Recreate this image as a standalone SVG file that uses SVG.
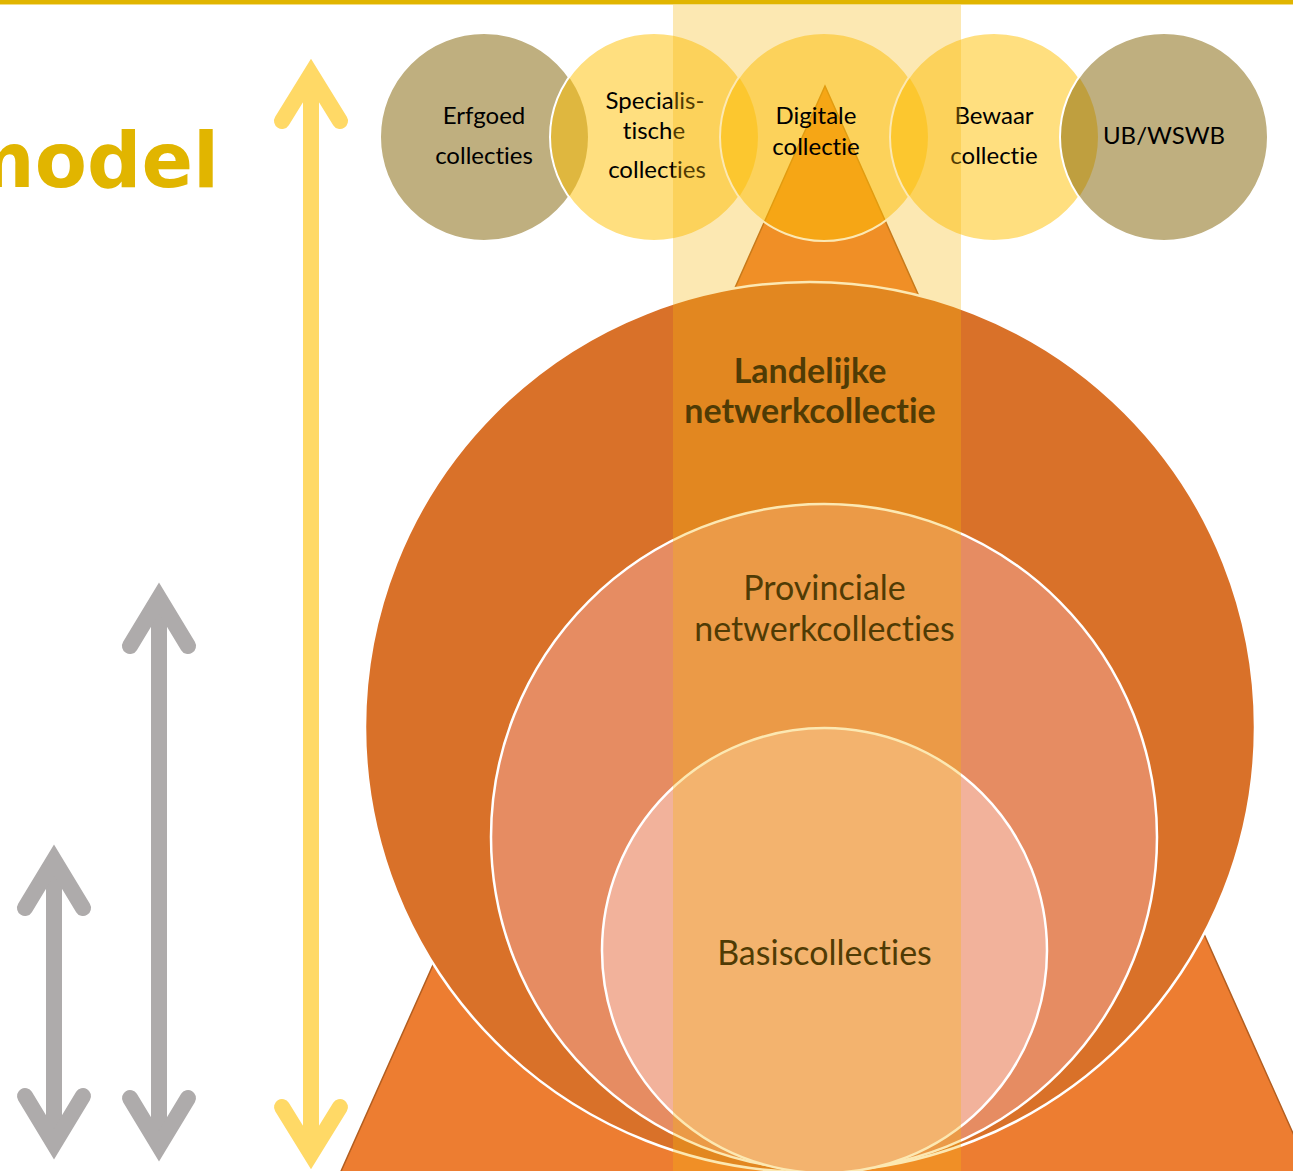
<svg xmlns="http://www.w3.org/2000/svg" width="1293" height="1171" viewBox="0 0 1293 1171">
<defs>
<style>
text{font-variant-ligatures:none;font-feature-settings:"liga" 0,"clig" 0}
.ctext{font-family:Lato,"Liberation Sans",sans-serif;font-size:24px;fill:#000;text-anchor:middle}
.big{font-family:Lato,"Liberation Sans",sans-serif;font-size:34px;fill:#000;text-anchor:middle}
.bold{font-weight:bold}
.yel{fill:#FFC000;fill-opacity:0.5}
.tan{fill:#7F6000;fill-opacity:0.5}
.wstroke{fill:none;stroke:#fff;stroke-width:2}
.ring{stroke:#fff;stroke-width:2.5}
.arrY{fill:none;stroke:#FFD966;stroke-width:16;stroke-linecap:round;stroke-linejoin:miter;stroke-miterlimit:10}
.arrG{fill:none;stroke:#AEABAB;stroke-width:16;stroke-linecap:round;stroke-linejoin:miter;stroke-miterlimit:10}
</style>
<clipPath id="notSpec"><path clip-rule="evenodd" d="M0,0H1293V1171H0Z M550,137a104,104 0 1,0 208,0a104,104 0 1,0 -208,0Z"/></clipPath>
<clipPath id="notDig"><path clip-rule="evenodd" d="M0,0H1293V1171H0Z M720,137a104,104 0 1,0 208,0a104,104 0 1,0 -208,0Z"/></clipPath>
<clipPath id="notBew"><path clip-rule="evenodd" d="M0,0H1293V1171H0Z M890,137a104,104 0 1,0 208,0a104,104 0 1,0 -208,0Z"/></clipPath>
<clipPath id="notUB"><path clip-rule="evenodd" d="M0,0H1293V1171H0Z M1060,137a104,104 0 1,0 208,0a104,104 0 1,0 -208,0Z"/></clipPath>
</defs>
<rect x="0" y="0" width="1293" height="1171" fill="#fff"/>

<g id="title">
<text x="219" y="187" font-family="'DejaVu Sans',sans-serif" font-weight="bold" font-size="76" fill="#E1B500" text-anchor="end">model</text>
</g>

<g id="connectors">
<g id="arrow-yellow">
<line x1="311" y1="80" x2="311" y2="1148" stroke="#FFD966" stroke-width="16"/>
<polyline class="arrY" points="282,121 311,74 340,121"/>
<polyline class="arrY" points="282,1107 311,1154 340,1107"/>
</g>
<g id="arrow-gray-1">
<line x1="54" y1="866" x2="54" y2="1138" stroke="#AEABAB" stroke-width="16"/>
<polyline class="arrG" points="25,908 54,860 83,908"/>
<polyline class="arrG" points="25,1096 54,1144 83,1096"/>
</g>
<g id="arrow-gray-2">
<line x1="159" y1="604" x2="159" y2="1140" stroke="#AEABAB" stroke-width="16"/>
<polyline class="arrG" points="130,646 159,598 188,646"/>
<polyline class="arrG" points="130,1098 159,1146 188,1098"/>
</g>
</g>

<g id="pyramid">
<polygon points="825,86 338,1178 1313,1178" fill="#ED7D31" stroke="#B35E20" stroke-width="1.5"/>
</g>

<g id="landelijke">
<circle class="ring" cx="810" cy="727" r="445" fill="#D97129"/>
</g>
<g id="provinciale">
<circle class="ring" cx="824" cy="837" r="333" fill="#E68C62"/>
</g>
<g id="basis">
<circle class="ring" cx="824.5" cy="950.5" r="222.5" fill="#F2B29B"/>
</g>

<g id="erfgoed">
<circle class="tan" cx="484" cy="137" r="104"/>
<circle class="wstroke" cx="484" cy="137" r="104" clip-path="url(#notSpec)"/>
<text class="ctext" x="484" y="124">Erfgoed</text>
<text class="ctext" x="484" y="164">collecties</text>
</g>
<g id="specialistische">
<circle class="yel" cx="654" cy="137" r="104"/>
<circle class="wstroke" cx="654" cy="137" r="104" clip-path="url(#notDig)"/>
<text class="ctext" x="655" y="109">Specialis-</text>
<text class="ctext" x="654" y="139">tische</text>
<text class="ctext" x="657" y="178">collecties</text>
</g>
<g id="digitale">
<circle class="yel" cx="824" cy="137" r="104"/>
<circle class="wstroke" cx="824" cy="137" r="104" clip-path="url(#notBew)"/>
</g>
<g id="bewaar">
<circle class="yel" cx="994" cy="137" r="104"/>
<circle class="wstroke" cx="994" cy="137" r="104" clip-path="url(#notUB)"/>
<text class="ctext" x="994" y="124">Bewaar</text>
<text class="ctext" x="994" y="164">collectie</text>
</g>
<g id="ub-wswb">
<circle class="tan" cx="1164" cy="137" r="104"/>
<circle class="wstroke" cx="1164" cy="137" r="104"/>
<text class="ctext" x="1164" y="144">UB/WSWB</text>
</g>

<g id="big-labels">
<text class="big bold" x="810" y="383">Landelijke</text>
<text class="big bold" x="810" y="423">netwerkcollectie</text>
<text class="big" x="824.5" y="600">Provinciale</text>
<text class="big" x="824.5" y="641">netwerkcollecties</text>
<text class="big" x="824.5" y="965">Basiscollecties</text>
</g>

<g id="highlight-column">
<rect x="673" y="0" width="288" height="1171" fill="#F7B810" fill-opacity="0.32"/>
</g>

<g id="digitale-label">
<text class="ctext" x="816" y="124">Digitale</text>
<text class="ctext" x="816" y="155">collectie</text>
</g>

<g id="top-rule">
<rect x="0" y="0" width="1293" height="4" fill="#E1B500"/>
<rect x="0" y="4" width="1293" height="1" fill="#F2DC86"/>
</g>
</svg>
